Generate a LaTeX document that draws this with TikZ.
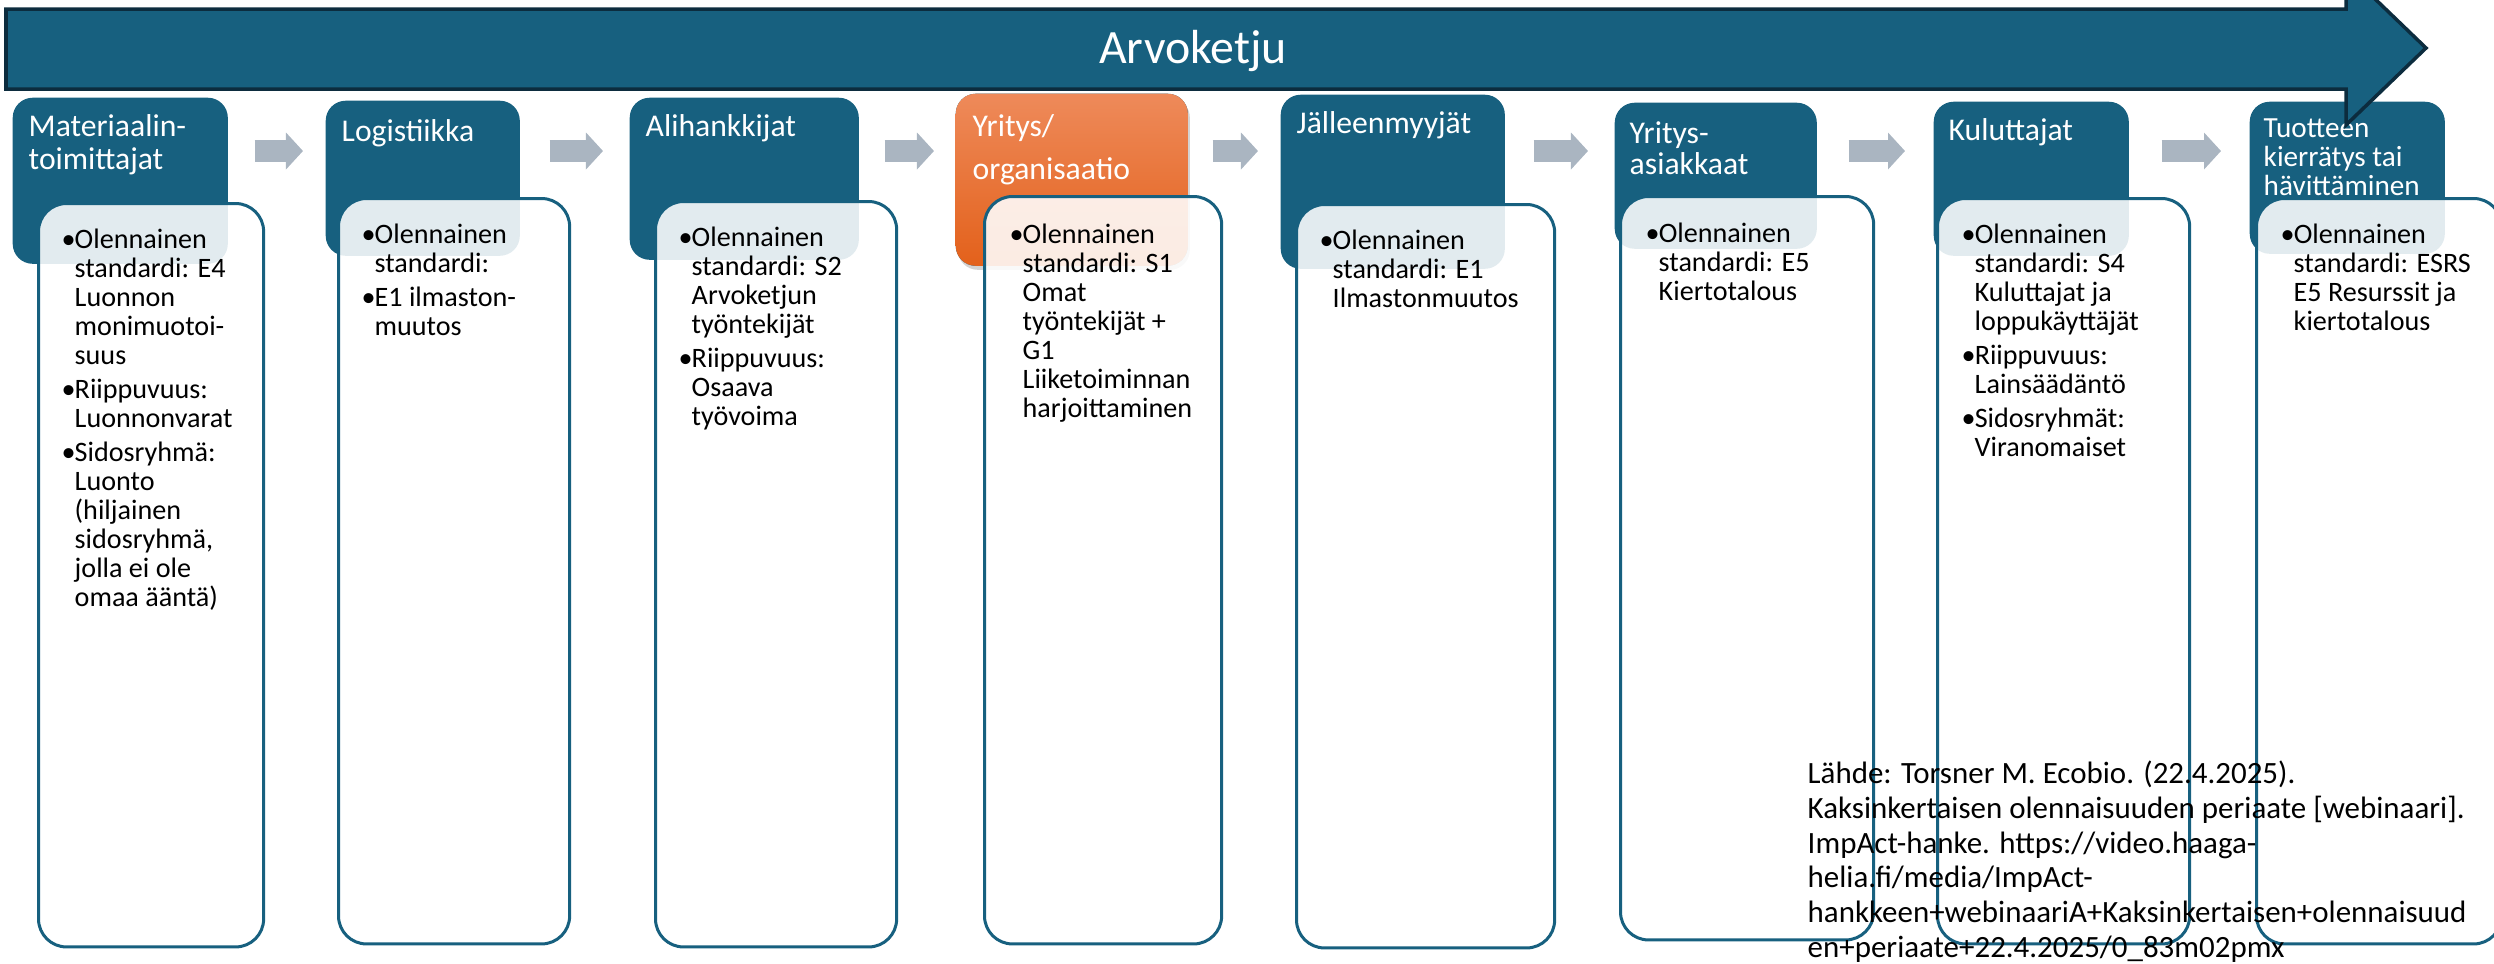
\documentclass[tikz,border=0pt]{standalone}
\usepackage{fontspec}
\setmainfont{Carlito}
\usetikzlibrary{arrows.meta,shadows}

\definecolor{chainblue}{HTML}{17607F}
\definecolor{chainedge}{HTML}{0C2C3E}
\definecolor{flowgray}{HTML}{AAB5C1}
\definecolor{orgtop}{HTML}{EE8A5A}
\definecolor{orgbottom}{HTML}{E3611B}

\tikzset{
  hdr/.style={fill=chainblue, rounded corners=0.2cm, inner sep=0pt, anchor=north west},
  orghdr/.style={hdr, top color=orgtop, bottom color=orgbottom,
    drop shadow={opacity=0.35, shadow xshift=0.02cm, shadow yshift=-0.04cm}},
  card/.style={draw=chainblue, line width=0.03cm, fill=white, fill opacity=0.88,
    rounded corners=0.28cm, inner sep=0pt, anchor=north west},
  htxt/.style={white, font=\fontsize{9}{9.4}\selectfont, inner sep=0pt, anchor=base west},
  body/.style={font=\fontsize{8}{8.25}\selectfont, inner sep=0pt, anchor=base west},
  banner/.style={fill=chainblue, draw=chainedge, line width=0.035cm, line join=miter},
  flow/.style={flowgray, line width=0.22cm, -{Triangle[width=0.36cm,length=0.17cm]}}
}

\newcommand{\stack}[1]{\begin{tabular}[t]{@{}l@{}}#1\end{tabular}}
\newcommand{\bul}{\makebox[0.13cm][l]{\textbullet}}
\newcommand{\ind}{\hspace*{0.13cm}}

\begin{document}
\begin{tikzpicture}[x=0.01cm, y=-0.01cm]
\useasboundingbox (0,0) rectangle (2494,963);

% headers
\node[hdr, minimum width=2.15cm, minimum height=1.66cm] (h1) at (12,97) {};
\node[hdr, minimum width=1.94cm, minimum height=1.55cm] (h2) at (325,100) {};
\node[hdr, minimum width=2.29cm, minimum height=1.62cm] (h3) at (629,97) {};
\node[orghdr, minimum width=2.32cm, minimum height=1.72cm] (h4) at (955,93) {};
\node[hdr, minimum width=2.24cm, minimum height=1.74cm] (h5) at (1280,94) {};
\node[hdr, minimum width=2.02cm, minimum height=1.46cm] (h6) at (1614,102) {};
\node[hdr, minimum width=1.95cm, minimum height=1.54cm] (h7) at (1933,101) {};
\node[hdr, minimum width=1.95cm, minimum height=1.52cm] (h8) at (2249,101) {};

\node[htxt] (t1) at ([shift={(16,39)}]h1.north west) {\stack{Materiaalin-\\toimittajat}};
\node[htxt] (t2) at ([shift={(16,41)}]h2.north west) {Logistiikka};
\node[htxt] (t3) at ([shift={(16,39)}]h3.north west) {Alihankkijat};
\node[htxt, font=\fontsize{9}{12.5}\selectfont] (t4) at ([shift={(17,43)}]h4.north west) {\stack{Yritys/\\organisaatio}};
\node[htxt] (t5) at ([shift={(16,39)}]h5.north west) {Jälleenmyyjät};
\node[htxt, font=\fontsize{9}{8.9}\selectfont] (t6) at ([shift={(15,41)}]h6.north west) {\stack{Yritys-\\asiakkaat}};
\node[htxt] (t7) at ([shift={(15,39)}]h7.north west) {Kuluttajat};
\node[htxt, font=\fontsize{8.3}{8.25}\selectfont] (t8) at ([shift={(14,36)}]h8.north west) {\stack{Tuotteen\\kierrätys tai\\hävittäminen}};

% cards
\node[card, minimum width=2.25cm, minimum height=7.43cm] (c1) at (37,202) {};
\node[card, minimum width=2.31cm, minimum height=7.45cm] (c2) at (337,197) {};
\node[card, minimum width=2.41cm, minimum height=7.45cm] (c3) at (654,200) {};
\node[card, minimum width=2.37cm, minimum height=7.47cm] (c4) at (983,195) {};
\node[card, minimum width=2.58cm, minimum height=7.43cm] (c5) at (1295,203) {};
\node[card, minimum width=2.53cm, minimum height=7.43cm] (c6) at (1619,195) {};
\node[card, minimum width=2.52cm, minimum height=7.45cm] (c7) at (1936,197) {};
\node[card, minimum width=2.45cm, minimum height=7.45cm] (c8) at (2255,197) {};

\node[body] (b1) at ([shift={(24,46)}]c1.north west) {\stack{\bul Olennainen\\\ind standardi: E4\\\ind Luonnon\\\ind monimuotoi-\\\ind suus\\[0.05cm]\bul Riippuvuus:\\\ind Luonnonvarat\\[0.05cm]\bul Sidosryhmä:\\\ind Luonto\\\ind (hiljainen\\\ind sidosryhmä,\\\ind jolla ei ole\\\ind omaa ääntä)}};
\node[body] (b2) at ([shift={(24,46)}]c2.north west) {\stack{\bul Olennainen\\\ind standardi:\\[0.05cm]\bul E1 ilmaston-\\\ind muutos}};
\node[body] (b3) at ([shift={(24,46)}]c3.north west) {\stack{\bul Olennainen\\\ind standardi: S2\\\ind Arvoketjun\\\ind työntekijät\\[0.05cm]\bul Riippuvuus:\\\ind Osaava\\\ind työvoima}};
\node[body] (b4) at ([shift={(26,48)}]c4.north west) {\stack{\bul Olennainen\\\ind standardi: S1\\\ind Omat\\\ind työntekijät +\\\ind G1\\\ind Liiketoiminnan\\\ind harjoittaminen}};
\node[body] (b5) at ([shift={(24,46)}]c5.north west) {\stack{\bul Olennainen\\\ind standardi: E1\\\ind Ilmastonmuutos}};
\node[body] (b6) at ([shift={(26,47)}]c6.north west) {\stack{\bul Olennainen\\\ind standardi: E5\\\ind Kiertotalous}};
\node[body] (b7) at ([shift={(25,46)}]c7.north west) {\stack{\bul Olennainen\\\ind standardi: S4\\\ind Kuluttajat ja\\\ind loppukäyttäjät\\[0.05cm]\bul Riippuvuus:\\\ind Lainsäädäntö\\[0.05cm]\bul Sidosryhmät:\\\ind Viranomaiset}};
\node[body] (b8) at ([shift={(25,46)}]c8.north west) {\stack{\bul Olennainen\\\ind standardi: ESRS\\\ind E5 Resurssit ja\\\ind kiertotalous}};

% value chain arrow
\draw[banner] (6,9) -- (2346,9) -- (2346,-29) -- (2426,48) -- (2346,125) -- (2346,89) -- (6,89) -- cycle;
\node[white, font=\fontsize{13.6}{16}\selectfont, anchor=base] (title) at (1193,63) {Arvoketju};

% flow between stages
\coordinate (row) at (0,151);
\foreach \a/\b/\s/\t in {h1/h2/0.26/0.22, h2/h3/0.29/0.26, h3/h4/0.25/0.21, h4/h5/0.24/0.22,
                         h5/h6/0.28/0.26, h6/h7/0.31/0.28, h7/h8/0.32/0.28}
  \draw[flow, shorten <=\s cm, shorten >=\t cm] (\a.east |- row) -- (\b.west |- row);

\node[font=\fontsize{8.8}{9.95}\selectfont, inner sep=0pt, anchor=base west] (source) at (1807,783)
  {\stack{Lähde: Torsner M. Ecobio. (22.4.2025).\\Kaksinkertaisen olennaisuuden periaate [webinaari].\\ImpAct-hanke. https://video.haaga-\\helia.fi/media/ImpAct-\\hankkeen+webinaariA+Kaksinkertaisen+olennaisuud\\en+periaate+22.4.2025/0\_83m02pmx}};
\end{tikzpicture}
\end{document}
